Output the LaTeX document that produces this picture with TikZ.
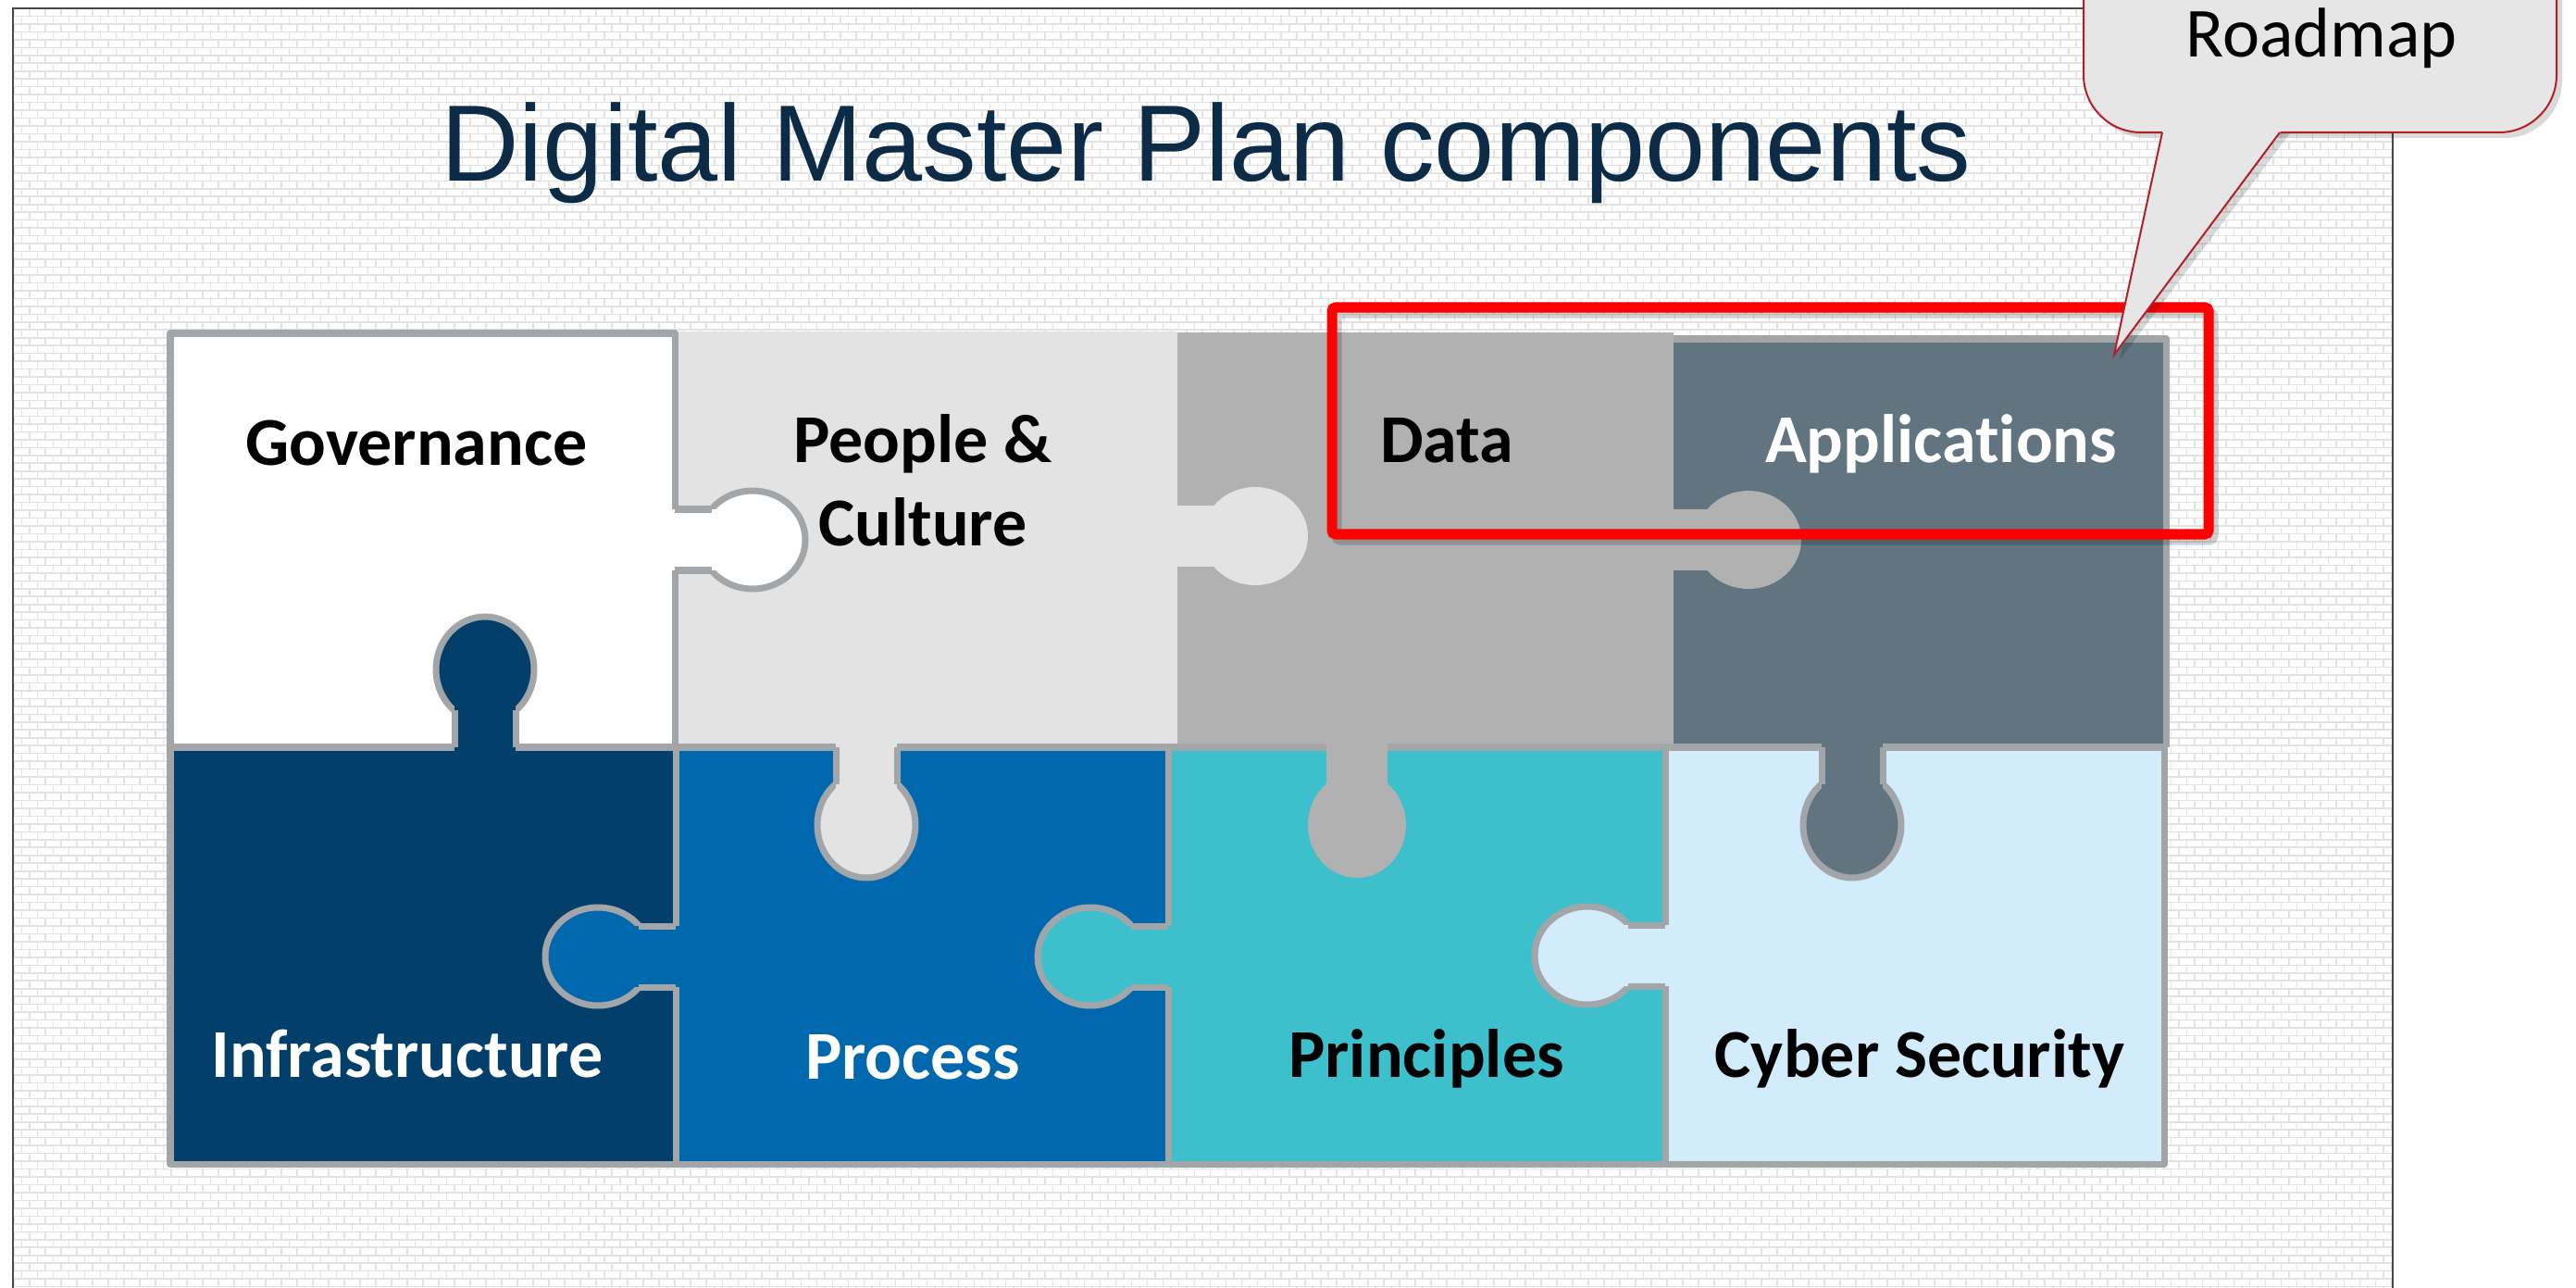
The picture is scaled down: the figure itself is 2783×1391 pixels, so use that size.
\documentclass[tikz,border=0pt]{standalone}
\usepackage{fontspec}
\newfontfamily\calibri[Ligatures=NoCommon]{Carlito}
\newfontfamily\arialf{Liberation Sans}
\definecolor{bordergray}{HTML}{A2A6A9}
\definecolor{mortargray}{HTML}{E3E3E3}
\definecolor{framegray}{HTML}{4A4A4A}
\definecolor{appcol}{HTML}{62747F}
\definecolor{datacol}{HTML}{B1B1B1}
\definecolor{peoplecol}{HTML}{E3E3E3}
\definecolor{infracol}{HTML}{023F6A}
\definecolor{proccol}{HTML}{0168AD}
\definecolor{princol}{HTML}{3DC0CC}
\definecolor{cybercol}{HTML}{D3ECFC}
\definecolor{titlecol}{HTML}{0B2B46}
\definecolor{calloutfill}{HTML}{E6E6E6}
\definecolor{calloutred}{HTML}{B0202A}
\definecolor{redbox}{HTML}{FF0000}
\newcommand{\pzknob}[6]{%
  \pgfmathsetmacro{\kcx}{#1+84*(#3)}%
  \pgfmathsetmacro{\kcy}{#2+84*(#4)}%
  \pgfmathsetmacro{\krx}{53+4*abs(#3)}%
  \pgfmathsetmacro{\kry}{53+4*abs(#4)}%
  \filldraw[fill=#5,#6] (\kcx,\kcy) ellipse[x radius=\krx, y radius=\kry];
  \fill[#5] ({#1-6*(#3)-33*(#4)},{#2-6*(#4)+33*(#3)}) rectangle ({\kcx+33*(#4)},{\kcy-33*(#3)});
  \draw[#6] ({#1-33*(#4)},{#2+33*(#3)}) -- ({#1+40*(#3)-33*(#4)},{#2+40*(#4)+33*(#3)});
  \draw[#6] ({#1+33*(#4)},{#2-33*(#3)}) -- ({#1+40*(#3)+33*(#4)},{#2+40*(#4)-33*(#3)});
}
\begin{document}
\begin{tikzpicture}[x=0.01cm,y=-0.01cm,
  pzborder/.style={draw=bordergray, line width=0.07cm, line join=round},
  noborder/.style={draw=none},
  pzlabel/.style={anchor=base, inner sep=0pt, font=\calibri\bfseries\fontsize{21.05pt}{25pt}\selectfont},
  mortar/.style={draw=mortargray, line width=0.016cm},
  mortarv/.style={draw=mortargray, line width=0.0847cm, dash pattern=on 0.016cm off 0.154cm},
]
\useasboundingbox (0,0) rectangle (2783,1391);
\clip (0,0) rectangle (2783,1391);
\fill[white] (0,0) rectangle (2783,1391);

% brick background
\begin{scope}
\clip (14,9) rectangle (2585,1391);
\foreach \i in {0,2,...,164} {
  \draw[mortar] (14,{9+\i*8.47}) -- (2585,{9+\i*8.47});
  \draw[mortarv] (14,{9+\i*8.47+4.235}) -- (2585,{9+\i*8.47+4.235});
}
\foreach \i in {1,3,...,163} {
  \draw[mortar] (14,{9+\i*8.47}) -- (2585,{9+\i*8.47});
  \draw[mortarv, dash phase=0.085cm] (14,{9+\i*8.47+4.235}) -- (2585,{9+\i*8.47+4.235});
}
\end{scope}
\draw[framegray, line width=0.02cm] (14,1395) -- (14,9) -- (2585,9) -- (2585,1395);

% title
\node[anchor=base, inner sep=0pt, text=titlecol, font=\arialf\fontsize{33.3pt}{40pt}\selectfont] (title) at (1303,196) {Digital Master Plan components};

% puzzle rectangles
\fill[appcol] (1805,366) rectangle (2340,807);
\draw[pzborder] (1805,366) -- (2340,366) -- (2340,807);
\fill[datacol] (1272,359) rectangle (1808,807);
\fill[peoplecol] (729,358) rectangle (1272,807);
\filldraw[fill=white, pzborder] (184,360) rectangle (729,807);
\filldraw[fill=infracol, pzborder] (184,807) rectangle (730,1257);
\filldraw[fill=proccol, pzborder] (730,807) rectangle (1262,1257);
\filldraw[fill=princol, pzborder] (1262,807) rectangle (1799,1257);
\filldraw[fill=cybercol, pzborder] (1799,807) rectangle (2338,1257);

% knobs
\pzknob{729}{583}{1}{0}{white}{pzborder}
\pzknob{1272}{579}{1}{0}{peoplecol}{noborder}
\pzknob{1805}{583}{1}{0}{datacol}{noborder}
\pzknob{524}{807}{0}{-1}{infracol}{pzborder}
\pzknob{936}{807}{0}{1}{peoplecol}{pzborder}
\pzknob{1466}{807}{0}{1}{datacol}{noborder}
\pzknob{2001}{807}{0}{1}{appcol}{pzborder}
\pzknob{730}{1033}{-1}{0}{proccol}{pzborder}
\pzknob{1262}{1033}{-1}{0}{princol}{pzborder}
\pzknob{1799}{1032}{-1}{0}{cybercol}{pzborder}

% labels
\node[pzlabel] (gov) at (450,502) {Governance};
\node[pzlabel] (peo1) at (997,500) {People \&};
\node[pzlabel] (peo2) at (997,589) {Culture};
\node[pzlabel] (data) at (1563,500) {Data};
\node[pzlabel, text=white] (apps) at (2097,499) {Applications};
\node[pzlabel, text=white] (infra) at (440,1163) {Infrastructure};
\node[pzlabel, text=white] (proc) at (986,1165) {Process};
\node[pzlabel] (princ) at (1541,1163) {Principles};
\node[pzlabel] (cyber) at (2074,1163) {Cyber Security};

% red highlight box
\draw[black, opacity=0.18, line width=0.11cm, rounded corners=0.04cm] (1444,338) rectangle (2391,583);
\draw[redbox, line width=0.11cm, rounded corners=0.04cm] (1439,332) rectangle (2386,577);

% callout
\coordinate (tip) at (2284,383);
\coordinate (baseL) at (2336,143);
\coordinate (baseR) at (2463,143);
\fill[black, opacity=0.15, rounded corners=0.62cm] (2257,-100) rectangle (2768,149);
\fill[black, opacity=0.15] (2290,389) -- (2344,140) -- (2477,140) -- cycle;
\filldraw[fill=calloutfill, draw=calloutred, line width=0.02cm, rounded corners=0.62cm] (2251,-100) rectangle (2762,143);
\fill[calloutfill] (tip) -- (2338,134) -- (2470,134) -- cycle;
\draw[calloutred, line width=0.02cm, line join=miter] (baseL) -- (tip) -- (baseR);
\node[anchor=base, inner sep=0pt, font=\calibri\fontsize{21.6pt}{26pt}\selectfont] (roadmap) at (2508,62) {Roadmap};
\end{tikzpicture}
\end{document}
